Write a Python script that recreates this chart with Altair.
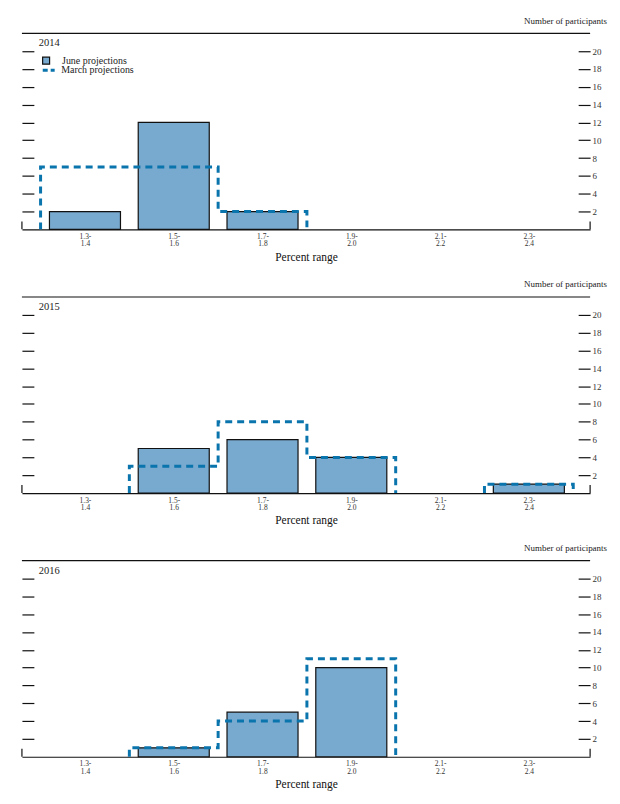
import json
import altair as alt
import pandas as pd

# ---------------- data ----------------
bin_low = [1.3, 1.5, 1.7, 1.9, 2.1, 2.3]
bin_high = [1.4, 1.6, 1.8, 2.0, 2.2, 2.4]
label_top = ["1.3-", "1.5-", "1.7-", "1.9-", "2.1-", "2.3-"]
label_bottom = ["1.4", "1.6", "1.8", "2.0", "2.2", "2.4"]
years = [2014, 2015, 2016]
june_2014 = [2, 12, 2, 0, 0, 0]
june_2015 = [0, 5, 6, 4, 0, 1]
june_2016 = [0, 1, 5, 10, 0, 0]
march_2014 = [7, 7, 2, 0, 0, 0]
march_2015 = [0, 3, 8, 4, 0, 1]
march_2016 = [0, 1, 4, 11, 0, 0]
y_ticks = [2, 4, 6, 8, 10, 12, 14, 16, 18, 20]
series_names = ["June projections", "March projections"]

june = {2014: june_2014, 2015: june_2015, 2016: june_2016}
march = {2014: march_2014, 2015: march_2015, 2016: march_2016}

# ---------------- style ----------------
FONT = "Liberation Serif"
BAR_FILL = "#78a9ce"
DASH_BLUE = "#0a74ad"
W, H = 571, 197
X_DOMAIN = [1.208, 2.488]
Y_DOMAIN = [0, 22]
BIN_HALF = 0.1
BAR_HALF = 0.08

centers = [round((a + b) / 2, 3) for a, b in zip(bin_low, bin_high)]

label_expr = (
    f"[{json.dumps(label_top)}[indexof({json.dumps(centers)}, datum.value)], "
    f"{json.dumps(label_bottom)}[indexof({json.dumps(centers)}, datum.value)]]"
)

xscale = alt.Scale(domain=X_DOMAIN, nice=False, zero=False)
yscale = alt.Scale(domain=Y_DOMAIN, nice=False)

x_axis = alt.Axis(
    values=centers, labelExpr=label_expr, ticks=False, grid=False,
    domain=True, domainColor="#111", domainWidth=1.2,
    labelFont=FONT, labelFontSize=7.5, labelColor="#333", labelPadding=3,
    labelLineHeight=7.5, title="Percent range", titleFont=FONT,
    titleFontSize=11.5, titleFontWeight="normal", titleColor="#111",
    titlePadding=4,
)
left_axis = alt.Axis(
    orient="left", values=y_ticks, labels=False, ticks=True, tickSize=12,
    tickColor="#111", tickWidth=1.2, domain=False, grid=False, title=None,
    offset=-12,
)
right_axis = alt.Axis(
    orient="right", values=y_ticks, labels=True, ticks=True, tickSize=12,
    tickColor="#111", tickWidth=1.2, domain=False, grid=False, title=None,
    offset=-12, labelFont=FONT, labelFontSize=9, labelColor="#333",
    labelPadding=2,
)


def step_outline(vals):
    rows = []
    grp = 0
    k = 0
    i = 0
    n = len(vals)
    while i < n:
        if vals[i] == 0:
            i += 1
            continue
        j = i
        while j + 1 < n and vals[j + 1] > 0:
            j += 1
        rows.append((grp, k, centers[i] - BIN_HALF, 0)); k += 1
        for b in range(i, j + 1):
            rows.append((grp, k, centers[b] - BIN_HALF, vals[b])); k += 1
            rows.append((grp, k, centers[b] + BIN_HALF, vals[b])); k += 1
        rows.append((grp, k, centers[j] + BIN_HALF, 0)); k += 1
        grp += 1
        i = j + 1
    df = pd.DataFrame(rows, columns=["grp", "k", "ex", "ev"])
    df["series"] = series_names[1]
    return df


def panel(year, show_legend):
    bars = pd.DataFrame({
        "c": centers,
        "v": june[year],
    })
    bars = bars[bars["v"] > 0].copy()
    bars["x0"] = bars["c"] - BAR_HALF
    bars["x1"] = bars["c"] + BAR_HALF
    bars["series"] = series_names[0]

    fill_legend = alt.Legend(
        orient="none", legendX=19.3, legendY=22.5, title=None, padding=0,
        symbolType="square", symbolSize=49, symbolStrokeColor="#111",
        symbolStrokeWidth=1.2, symbolFillColor=BAR_FILL, labelFont=FONT,
        labelFontSize=10, labelColor="#222", labelOffset=11,
    ) if show_legend else None
    stroke_legend = alt.Legend(
        orient="none", legendX=19.4, legendY=29.5, title=None, padding=0,
        symbolType="stroke", symbolSize=144, symbolDash=[5, 3],
        symbolStrokeWidth=3, labelFont=FONT, labelFontSize=10,
        labelColor="#222", labelOffset=5,
    ) if show_legend else None

    bar_layer = alt.Chart(bars).mark_bar(
        stroke="#111", strokeWidth=1.2
    ).encode(
        x=alt.X("x0:Q", scale=xscale, axis=x_axis),
        x2="x1:Q",
        y=alt.Y("v:Q", scale=yscale, axis=left_axis),
        y2=alt.datum(0),
        fill=alt.Fill("series:N", scale=alt.Scale(domain=[series_names[0]], range=[BAR_FILL]),
                      legend=fill_legend),
    )

    line_layer = alt.Chart(step_outline(march[year])).mark_line(
        strokeWidth=3, strokeDash=[7, 5], strokeCap="butt", strokeJoin="miter"
    ).encode(
        x=alt.X("ex:Q", scale=xscale, axis=x_axis),
        y=alt.Y("ev:Q", scale=yscale, axis=right_axis),
        detail="grp:N",
        order="k:Q",
        stroke=alt.Stroke("series:N", scale=alt.Scale(domain=[series_names[1]], range=[DASH_BLUE]),
                          legend=stroke_legend),
    )

    top_rule = alt.Chart(pd.DataFrame({"a": [0]})).mark_rule(
        color="#111", strokeWidth=1.2
    ).encode(y=alt.value(0))

    end_ticks = alt.Chart(pd.DataFrame({"xd": X_DOMAIN})).mark_rule(
        color="#111", strokeWidth=1.2
    ).encode(
        x=alt.X("xd:Q", scale=xscale, axis=x_axis),
        y=alt.value(H - 8), y2=alt.value(H),
    )

    year_text = alt.Chart(pd.DataFrame({"yr": [str(year)]})).mark_text(
        align="left", baseline="middle", font=FONT, fontSize=10.5, color="#222"
    ).encode(x=alt.value(17), y=alt.value(10), text="yr:N")

    return alt.layer(
        bar_layer, line_layer, top_rule, end_ticks, year_text
    ).resolve_axis(y="independent").properties(
        width=W, height=H,
        title=alt.TitleParams(
            "Number of participants", anchor="end", frame="bounds",
            fontSize=9, font=FONT, fontWeight="normal", color="#222",
            offset=7, dx=6,
        ),
    )


chart = alt.vconcat(
    *[panel(y, i == 0) for i, y in enumerate(years)], spacing=17
).resolve_scale(
    fill="independent", stroke="independent"
).resolve_legend(
    fill="independent", stroke="independent"
).properties(
    padding={"left": 13, "top": 6.5, "right": 5, "bottom": 5}
).configure_view(stroke=None)

chart.save("out.html", embed_options={"renderer": "svg", "actions": False})
